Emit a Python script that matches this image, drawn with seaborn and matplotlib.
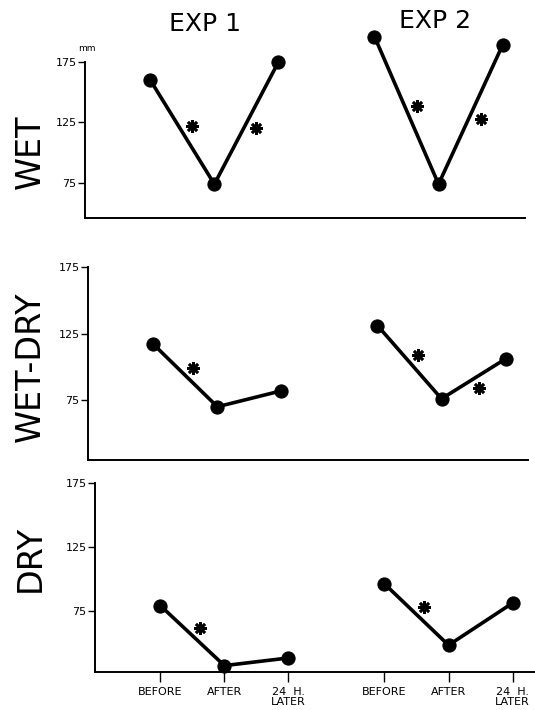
import numpy as np
import pandas as pd
import matplotlib
matplotlib.use("Agg")
import matplotlib.pyplot as plt
import matplotlib.transforms as mtransforms
import seaborn as sns

# ---------------- data ----------------
conditions = ["WET", "WET-DRY", "DRY"]
experiments = ["EXP 1", "EXP 2"]
time_labels = ["BEFORE", "AFTER", "24  H.\nLATER"]
pos_exp1 = [0, 1, 2]
pos_exp2 = [3.5, 4.5, 5.5]

wet_exp1 = [160, 74, 175]
wet_exp2 = [196, 74, 189]
wetdry_exp1 = [117, 70, 82]
wetdry_exp2 = [131, 76, 106]
dry_exp1 = [79, 32, 38]
dry_exp2 = [96, 48, 81]

# significant change (asterisk) for segment BEFORE->AFTER and AFTER->24H
sig_wet_exp1 = [True, True]
sig_wet_exp2 = [True, True]
sig_wetdry_exp1 = [True, False]
sig_wetdry_exp2 = [True, True]
sig_dry_exp1 = [True, False]
sig_dry_exp2 = [True, False]

y_ticks = [75, 125, 175]

values = {
    "WET": (wet_exp1, wet_exp2),
    "WET-DRY": (wetdry_exp1, wetdry_exp2),
    "DRY": (dry_exp1, dry_exp2),
}
sigs = {
    "WET": (sig_wet_exp1, sig_wet_exp2),
    "WET-DRY": (sig_wetdry_exp1, sig_wetdry_exp2),
    "DRY": (sig_dry_exp1, sig_dry_exp2),
}

rows = []
for cond in conditions:
    for exp, pos, vals in zip(experiments, (pos_exp1, pos_exp2), values[cond]):
        for p, v in zip(pos, vals):
            rows.append({"condition": cond, "exp": exp, "x": p, "value": v})
df = pd.DataFrame(rows)

# ---------------- style ----------------
sns.set_style("ticks")
plt.rcParams["font.family"] = ["DejaVu Sans"]
plt.rcParams.update({
    "text.color": "black", "axes.edgecolor": "black",
    "xtick.color": "black", "ytick.color": "black",
    "axes.labelcolor": "black",
})

W, H = 535, 710
fig = plt.figure(figsize=(W / 100, H / 100), dpi=100)

# layout in pixels: left spine x, top (175 level) y, baseline y
left_px = [85, 88, 95]
top_px = [62, 267, 483]
base_px = [218, 460, 672]
ylims = [(46, 175), (30, 175), (27, 175)]
xlim = (-1.02, 5.85)
width_px = 440

row_label_y = [152, 367, 558]

axes = []
for i, cond in enumerate(conditions):
    ax = fig.add_axes([left_px[i] / W, 1 - base_px[i] / H,
                       width_px / W, (base_px[i] - top_px[i]) / H])
    axes.append(ax)
    sub = df[df["condition"] == cond]
    sns.lineplot(data=sub, x="x", y="value", units="exp", estimator=None,
                 color="black", linewidth=2.6, marker="o", markersize=9.5,
                 markeredgecolor="black", markerfacecolor="black",
                 clip_on=False, ax=ax, legend=False, sort=False)
    ax.set_xlim(*xlim)
    ax.set_ylim(*ylims[i])
    for s in ["top", "right"]:
        ax.spines[s].set_visible(False)
    for s in ["left", "bottom"]:
        ax.spines[s].set_linewidth(1.4)
        ax.spines[s].set_color("black")
    ax.set_yticks(y_ticks)
    ax.set_yticklabels([str(t) for t in y_ticks], fontsize=8, color="black")
    ax.tick_params(axis="y", direction="out", length=5, width=1.0, pad=1, colors="black")
    ax.set_xlabel("")
    ax.set_ylabel("")
    allpos = pos_exp1 + pos_exp2
    ax.set_xticks(allpos)
    if i == 2:
        ax.set_xticklabels(time_labels * 2, fontsize=8, linespacing=0.95, color="black")
        ax.tick_params(axis="x", direction="out", length=7, width=1.0, pad=4, colors="black")
    else:
        ax.set_xticklabels([])
        ax.tick_params(axis="x", length=0)

    # asterisks beside the significant segments
    for pos, vals, sg in zip((pos_exp1, pos_exp2), values[cond], sigs[cond]):
        for k in range(2):
            if not sg[k]:
                continue
            p0 = ax.transData.transform((pos[k], vals[k]))
            p1 = ax.transData.transform((pos[k + 1], vals[k + 1]))
            v = p1 - p0
            n = np.array([v[1], -v[0]])
            if n[0] < 0:
                n = -n
            n = n / np.hypot(*n) * 11
            mx = (pos[k] + pos[k + 1]) / 2
            my = (vals[k] + vals[k + 1]) / 2
            tr = mtransforms.offset_copy(ax.transData, fig=fig, x=n[0], y=n[1], units="dots")
            ax.plot([mx], [my], marker=(8, 2, 0), markersize=9, mew=1.9,
                    color="black", transform=tr, clip_on=False)

    fig.text(30 / W, 1 - row_label_y[i] / H, cond, rotation=90,
             ha="center", va="center", fontsize=24, color="black")

axes[0].annotate("mm", xy=(0, 1), xycoords="axes fraction", xytext=(1, 10),
                 textcoords="offset points", ha="center", va="center", fontsize=6.5,
                 color="black")

fig.text(205 / W, 1 - 24 / H, "EXP 1", ha="center", va="center", fontsize=18, color="black")
fig.text(435 / W, 1 - 21 / H, "EXP 2", ha="center", va="center", fontsize=18, color="black")

fig.savefig("out.png", dpi=100)
